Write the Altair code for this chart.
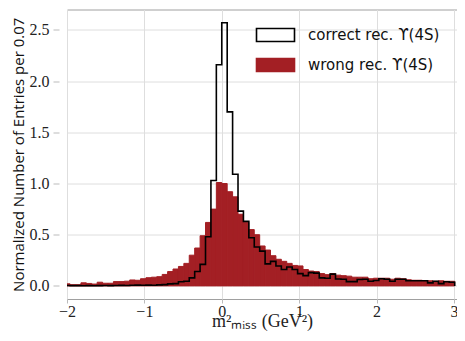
import altair as alt
import pandas as pd

# Histogram bins: width 0.07, edges at k*0.07
bin_width = 0.07
bin_index = list(range(-29, 43))

wrong_values = [
    0.020, 0.012, 0.012, 0.030, 0.024, 0.018, 0.036, 0.026, 0.026, 0.042,
    0.042, 0.046, 0.058, 0.055, 0.070, 0.080, 0.085, 0.090, 0.112, 0.140,
    0.165, 0.190, 0.220, 0.300, 0.370, 0.490, 0.620, 0.750, 1.010, 1.000,
    0.920, 0.870, 0.700, 0.620, 0.550, 0.500, 0.390, 0.350, 0.295, 0.260,
    0.240, 0.220, 0.200, 0.195, 0.160, 0.145, 0.140, 0.120, 0.110, 0.120,
    0.105, 0.100, 0.095, 0.085, 0.085, 0.085, 0.070, 0.075, 0.075, 0.075,
    0.065, 0.075, 0.070, 0.060, 0.055, 0.055, 0.050, 0.050, 0.045, 0.050,
    0.045, 0.045,
]

correct_values = [
    0.004, 0.003, 0.003, 0.002, 0.003, 0.002, 0.003, 0.004, 0.003, 0.004,
    0.005, 0.004, 0.006, 0.008, 0.006, 0.008, 0.007, 0.010, 0.012, 0.020,
    0.022, 0.040, 0.045, 0.078, 0.140, 0.210, 0.480, 1.030, 2.160, 2.570,
    1.700, 1.090, 0.730, 0.630, 0.470, 0.380, 0.340, 0.215, 0.240, 0.195,
    0.160, 0.185, 0.160, 0.120, 0.100, 0.130, 0.125, 0.078, 0.075, 0.115,
    0.068, 0.065, 0.042, 0.042, 0.062, 0.065, 0.045, 0.052, 0.070, 0.065,
    0.045, 0.065, 0.065, 0.050, 0.050, 0.050, 0.050, 0.030, 0.045, 0.022,
    0.040, 0.035,
]

series_labels = ["correct rec. \u03d2(4S)", "wrong rec. \u03d2(4S)"]
x_ticks = [-2, -1, 0, 1, 2, 3]
y_ticks = [0.0, 0.5, 1.0, 1.5, 2.0, 2.5]

RED = "#a31f24"

left_edges = [round(k * bin_width, 4) for k in bin_index]
right_edges = [round((k + 1) * bin_width, 4) for k in bin_index]

df_wrong = pd.DataFrame({
    "x": left_edges,
    "x2": right_edges,
    "y": wrong_values,
    "series": series_labels[1],
})

# step outline points for the "correct" histogram
step_x = [left_edges[0]] + left_edges + [right_edges[-1], right_edges[-1]]
step_y = [0.0] + correct_values + [correct_values[-1], 0.0]
df_correct = pd.DataFrame({"x": step_x, "y": step_y, "i": list(range(len(step_x)))})

x_scale = alt.Scale(domain=[-2.0, 3.04], nice=False, zero=False)
y_scale = alt.Scale(domain=[-0.128, 2.70], nice=False, zero=False)

x_axis = alt.Axis(
    values=x_ticks, format="d", title="m\u00b2\u2098\u1d62\u209b\u209b  (GeV\u00b2)",
    grid=True, domain=False, tickSize=4, tickColor="#bbbbbb", labelPadding=0,
    labelFlush=False,
    labelFont="Liberation Serif", labelFontSize=16, labelColor="#222222",
    titleFont="Liberation Serif", titleFontSize=18, titleFontWeight="normal",
    titleColor="#222222", titleY=27.5, titleBaseline="alphabetic",
)
y_axis = alt.Axis(
    values=y_ticks, format=".1f", title="Normalized Number of Entries per 0.07",
    grid=True, domain=False, offset=8, tickSize=6, tickColor="#bbbbbb", labelPadding=4,
    labelFont="Liberation Serif", labelFontSize=16, labelColor="#222222",
    titleFont="Open Sans", titleFontSize=15, titleFontWeight="normal",
    titleColor="#111111", titlePadding=3,
)

legend = alt.Legend(
    title=None, orient="none", legendX=200, legendY=17, padding=0,
    symbolType="M-2.5,-0.85H2.5V0.85H-2.5Z", symbolSize=231,
    symbolStrokeWidth=1.6, labelOffset=24, rowPadding=9,
    labelFont="DejaVu Sans", labelFontSize=15, labelColor="#111111",
)

bars = alt.Chart(df_wrong).mark_rect(strokeWidth=1.0, clip=True).encode(
    x=alt.X("x:Q", scale=x_scale, axis=x_axis),
    x2="x2:Q",
    y=alt.Y("y:Q", scale=y_scale, axis=y_axis),
    y2=alt.datum(0),
    fill=alt.Fill("series:N", scale=alt.Scale(domain=series_labels, range=["white", RED]), legend=legend),
    stroke=alt.Stroke("series:N", scale=alt.Scale(domain=series_labels, range=["black", RED]), legend=legend),
)

outline = alt.Chart(df_correct).mark_line(
    interpolate="step-after", color="black", strokeWidth=1.6, clip=True
).encode(
    x=alt.X("x:Q", scale=x_scale),
    y=alt.Y("y:Q", scale=y_scale),
    order="i:Q",
)

chart = (
    alt.layer(bars, outline)
    .properties(
        width=390, height=289.5,
        autosize=alt.AutoSizeParams(type="none"),
        padding={"left": 59, "top": 1.5, "right": 0, "bottom": 33},
    )
    .configure_view(stroke="#a0a0a0", strokeWidth=1)
    .configure_axis(gridColor="#dedede", gridWidth=1)
)

chart.save("out.html", embed_options={"renderer": "svg", "actions": False})
